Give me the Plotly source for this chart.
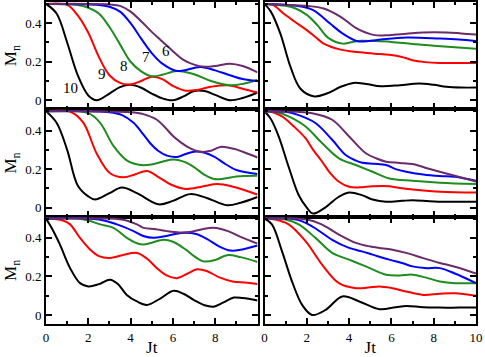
import plotly.graph_objects as go
from plotly.subplots import make_subplots

# curve colours, one per chain length n = 10, 9, 8, 7, 6
colors = ["black", "#ff0000", "#1e8c1e", "#0000ff", "#6b2a6b"]
curve_names = ["10", "9", "8", "7", "6"]

# ---- row 1, left ----
tl_x10 = [0, 0.5, 1.0, 1.5, 2.0, 2.4, 3.0, 3.5, 4.0, 4.5, 5.0, 5.5, 6.0, 6.5, 7.0, 7.5, 8.0, 8.7, 9.3, 10]
tl_y10 = [0.5, 0.45, 0.30, 0.13, 0.025, 0.0, 0.035, 0.068, 0.08, 0.065, 0.035, 0.01, 0.0, 0.02, 0.048, 0.048, 0.028, 0.0, 0.012, 0.04]
tl_x9 = [0, 1.0, 1.5, 2.0, 2.5, 3.0, 3.5, 4.0, 4.5, 5.0, 5.5, 6.0, 6.6, 7.2, 7.8, 8.6, 9.3, 10]
tl_y9 = [0.5, 0.495, 0.44, 0.35, 0.225, 0.13, 0.09, 0.082, 0.1, 0.122, 0.11, 0.075, 0.05, 0.055, 0.07, 0.078, 0.06, 0.04]
tl_x8 = [0, 1.5, 2.0, 2.5, 3.0, 3.5, 4.0, 4.5, 5.0, 5.5, 6.2, 7.0, 7.8, 8.7, 9.3, 10]
tl_y8 = [0.5, 0.495, 0.48, 0.45, 0.38, 0.29, 0.2, 0.15, 0.125, 0.132, 0.152, 0.135, 0.1, 0.078, 0.085, 0.105]
tl_x7 = [0, 2.5, 3.0, 3.5, 4.0, 4.5, 5.0, 5.5, 6.2, 7.3, 8.0, 8.7, 9.3, 10]
tl_y7 = [0.5, 0.495, 0.485, 0.46, 0.4, 0.32, 0.245, 0.19, 0.152, 0.173, 0.155, 0.13, 0.11, 0.1]
tl_x6 = [0, 3.0, 3.5, 4.0, 4.5, 5.0, 5.5, 6.0, 6.5, 7.0, 7.5, 8.0, 8.7, 9.3, 10]
tl_y6 = [0.5, 0.497, 0.49, 0.46, 0.41, 0.355, 0.305, 0.255, 0.21, 0.185, 0.174, 0.178, 0.19, 0.178, 0.145]

# ---- row 1, right ----
tr_x10 = [0, 0.3, 0.75, 1.23, 1.7, 2.36, 2.95, 3.6, 4.2, 4.8, 5.5, 6.4, 7.3, 8.0, 8.6, 9.3, 10]
tr_y10 = [0.5, 0.46, 0.346, 0.173, 0.06, 0.02, 0.035, 0.07, 0.09, 0.085, 0.073, 0.078, 0.087, 0.08, 0.07, 0.066, 0.066]
tr_x9 = [0, 0.4, 0.9, 1.4, 2.0, 2.5, 2.8, 3.6, 4.4, 5.2, 5.9, 6.5, 7.0, 7.6, 8.3, 9.0, 10]
tr_y9 = [0.5, 0.495, 0.45, 0.41, 0.364, 0.32, 0.294, 0.263, 0.25, 0.242, 0.236, 0.225, 0.208, 0.198, 0.194, 0.194, 0.194]
tr_x8 = [0, 1.0, 1.5, 2.0, 2.5, 3.0, 3.7, 4.4, 5.2, 6.0, 7.0, 8.0, 9.0, 10]
tr_y8 = [0.5, 0.49, 0.475, 0.443, 0.39, 0.325, 0.294, 0.308, 0.307, 0.303, 0.292, 0.283, 0.275, 0.268]
tr_x7 = [0, 1.5, 2.3, 3.1, 3.7, 4.4, 5.0, 5.5, 6.7, 8.3, 9.2, 10]
tr_y7 = [0.5, 0.49, 0.468, 0.398, 0.346, 0.306, 0.309, 0.315, 0.326, 0.32, 0.315, 0.308]
tr_x6 = [0, 2.0, 2.8, 3.6, 4.4, 5.2, 5.9, 6.7, 7.5, 8.6, 9.3, 10]
tr_y6 = [0.5, 0.49, 0.476, 0.433, 0.37, 0.338, 0.338, 0.345, 0.352, 0.352, 0.347, 0.341]

# ---- row 2, left ----
ml_x10 = [0, 0.5, 1.0, 1.5, 2.0, 2.32, 3.0, 3.59, 4.3, 5.32, 6.0, 6.82, 7.6, 8.56, 9.2, 10]
ml_y10 = [0.5, 0.44, 0.3, 0.115, 0.058, 0.042, 0.075, 0.104, 0.075, 0.017, 0.035, 0.07, 0.05, 0.012, 0.025, 0.055]
ml_x9 = [0, 1.2, 1.77, 2.4, 3.03, 3.67, 4.2, 4.77, 5.3, 5.9, 6.6, 7.4, 8.1, 8.8, 9.4, 10]
ml_y9 = [0.5, 0.495, 0.44, 0.28, 0.178, 0.157, 0.172, 0.19, 0.16, 0.12, 0.097, 0.11, 0.122, 0.11, 0.09, 0.068]
ml_x8 = [0, 2.0, 2.56, 3.19, 3.82, 4.4, 4.9, 5.5, 6.03, 6.6, 7.0, 7.5, 7.95, 8.5, 9.0, 10]
ml_y8 = [0.5, 0.49, 0.44, 0.32, 0.245, 0.222, 0.222, 0.238, 0.25, 0.235, 0.21, 0.17, 0.148, 0.152, 0.162, 0.165]
ml_x7 = [0, 3.0, 3.6, 4.14, 4.6, 4.93, 5.3, 5.72, 6.19, 6.6, 7.0, 7.5, 7.95, 8.5, 9.0, 10]
ml_y7 = [0.5, 0.495, 0.48, 0.44, 0.38, 0.334, 0.295, 0.27, 0.263, 0.278, 0.29, 0.285, 0.265, 0.225, 0.195, 0.175]
ml_x6 = [0, 4.0, 4.6, 5.24, 5.6, 6.03, 6.67, 7.3, 7.8, 8.25, 8.88, 9.3, 10]
ml_y6 = [0.5, 0.495, 0.485, 0.456, 0.42, 0.369, 0.317, 0.29, 0.295, 0.315, 0.305, 0.29, 0.26]

# ---- row 2, right ----
mr_x10 = [0, 0.3, 0.67, 1.14, 1.62, 2.0, 2.29, 2.9, 3.5, 4.0, 4.6, 5.11, 5.75, 6.5, 7.0, 7.8, 8.6, 9.3, 10]
mr_y10 = [0.5, 0.46, 0.37, 0.212, 0.064, 0.0, -0.031, 0.003, 0.055, 0.078, 0.065, 0.042, 0.03, 0.035, 0.038, 0.033, 0.03, 0.03, 0.03]
mr_x9 = [0, 0.4, 0.83, 1.4, 1.94, 2.3, 2.73, 3.1, 3.52, 4.0, 4.5, 5.11, 5.9, 6.5, 7.0, 8.3, 10]
mr_y9 = [0.5, 0.495, 0.473, 0.42, 0.36, 0.3, 0.238, 0.18, 0.134, 0.108, 0.105, 0.111, 0.111, 0.1, 0.094, 0.082, 0.078]
mr_x8 = [0, 0.6, 1.14, 1.94, 2.73, 3.52, 4.32, 5.11, 5.9, 7.0, 8.29, 10]
mr_y8 = [0.5, 0.495, 0.473, 0.421, 0.334, 0.256, 0.221, 0.186, 0.151, 0.139, 0.129, 0.122]
mr_x7 = [0, 1.0, 1.62, 2.41, 3.2, 3.84, 4.3, 4.63, 5.2, 5.75, 6.2, 6.7, 7.5, 8.29, 9.0, 10]
mr_y7 = [0.5, 0.497, 0.48, 0.439, 0.352, 0.273, 0.245, 0.233, 0.228, 0.221, 0.2, 0.186, 0.172, 0.164, 0.16, 0.139]
mr_x6 = [0, 1.5, 2.25, 3.2, 4.0, 4.79, 5.3, 5.75, 6.4, 7.0, 7.6, 8.29, 9.0, 10]
mr_y6 = [0.5, 0.497, 0.49, 0.456, 0.369, 0.282, 0.255, 0.238, 0.232, 0.226, 0.207, 0.186, 0.165, 0.135]

# ---- row 3, left ----
bl_x10 = [0, 0.3, 0.66, 1.14, 1.61, 2.0, 2.5, 3.03, 3.4, 3.82, 4.3, 4.77, 5.4, 6.03, 6.5, 6.98, 7.5, 7.93, 8.4, 8.88, 9.3, 10]
bl_y10 = [0.5, 0.445, 0.365, 0.243, 0.165, 0.148, 0.16, 0.183, 0.16, 0.104, 0.07, 0.052, 0.085, 0.125, 0.11, 0.078, 0.05, 0.043, 0.065, 0.09, 0.088, 0.075]
bl_x9 = [0, 0.8, 1.14, 1.61, 2.08, 2.5, 3.03, 3.6, 4.3, 4.8, 5.24, 5.7, 6.19, 6.7, 7.14, 7.6, 8.2, 8.88, 9.4, 10]
bl_y9 = [0.5, 0.49, 0.47, 0.4, 0.34, 0.305, 0.296, 0.31, 0.322, 0.29, 0.243, 0.205, 0.191, 0.215, 0.237, 0.228, 0.195, 0.172, 0.168, 0.16]
bl_x8 = [0, 1.5, 2.0, 2.56, 3.19, 3.82, 4.3, 4.61, 5.0, 5.56, 6.0, 6.6, 7.0, 7.45, 8.0, 8.56, 9.2, 10]
bl_y8 = [0.5, 0.5, 0.49, 0.47, 0.452, 0.4, 0.372, 0.365, 0.375, 0.39, 0.38, 0.34, 0.305, 0.278, 0.285, 0.31, 0.3, 0.275]
bl_x7 = [0, 2.5, 3.35, 4.14, 4.6, 5.09, 5.6, 6.1, 6.6, 7.1, 7.6, 8.2, 8.72, 9.2, 10]
bl_y7 = [0.5, 0.495, 0.47, 0.435, 0.41, 0.4, 0.408, 0.42, 0.426, 0.42, 0.395, 0.355, 0.334, 0.338, 0.36]
bl_x6 = [0, 3.0, 3.8, 4.3, 4.61, 5.2, 5.72, 6.3, 6.8, 7.4, 7.93, 8.6, 9.2, 10]
bl_y6 = [0.5, 0.5, 0.49, 0.47, 0.452, 0.445, 0.435, 0.428, 0.43, 0.445, 0.452, 0.435, 0.405, 0.37]

# ---- row 3, right ----
br_x10 = [0, 0.35, 0.83, 1.3, 1.78, 2.25, 2.89, 3.68, 4.48, 5.43, 6.2, 6.7, 7.5, 8.29, 9.2, 10]
br_y10 = [0.5, 0.47, 0.33, 0.174, 0.052, 0.0, 0.026, 0.096, 0.07, 0.03, 0.04, 0.047, 0.04, 0.038, 0.038, 0.038]
br_x9 = [0, 0.5, 1.14, 1.94, 2.73, 3.52, 4.32, 4.9, 5.43, 6.0, 6.7, 7.5, 8.29, 9.0, 10]
br_y9 = [0.5, 0.495, 0.47, 0.383, 0.26, 0.165, 0.139, 0.142, 0.148, 0.14, 0.122, 0.104, 0.11, 0.112, 0.1]
br_x8 = [0, 1.0, 1.62, 2.41, 3.2, 4.0, 4.79, 5.75, 6.4, 7.0, 7.6, 8.29, 9.0, 10]
br_y8 = [0.5, 0.495, 0.47, 0.4, 0.322, 0.287, 0.252, 0.209, 0.205, 0.209, 0.195, 0.174, 0.165, 0.165]
br_x7 = [0, 1.5, 2.25, 3.2, 4.0, 4.6, 5.11, 5.9, 6.5, 7.0, 7.6, 8.29, 9.0, 10]
br_y7 = [0.5, 0.495, 0.46, 0.39, 0.348, 0.33, 0.313, 0.287, 0.27, 0.252, 0.243, 0.243, 0.215, 0.165]
br_x6 = [0, 2.0, 2.7, 3.52, 4.32, 5.0, 5.43, 6.0, 6.7, 7.5, 8.29, 9.0, 10]
br_y6 = [0.5, 0.495, 0.47, 0.417, 0.374, 0.355, 0.348, 0.34, 0.322, 0.295, 0.27, 0.25, 0.215]

# where the chain-length labels sit in the first panel
label_x = [1.14, 2.63, 3.70, 4.72, 5.68]
label_y = [0.062, 0.135, 0.18, 0.227, 0.258]

panels = {
    (1, 1): [(tl_x10, tl_y10), (tl_x9, tl_y9), (tl_x8, tl_y8), (tl_x7, tl_y7), (tl_x6, tl_y6)],
    (1, 2): [(tr_x10, tr_y10), (tr_x9, tr_y9), (tr_x8, tr_y8), (tr_x7, tr_y7), (tr_x6, tr_y6)],
    (2, 1): [(ml_x10, ml_y10), (ml_x9, ml_y9), (ml_x8, ml_y8), (ml_x7, ml_y7), (ml_x6, ml_y6)],
    (2, 2): [(mr_x10, mr_y10), (mr_x9, mr_y9), (mr_x8, mr_y8), (mr_x7, mr_y7), (mr_x6, mr_y6)],
    (3, 1): [(bl_x10, bl_y10), (bl_x9, bl_y9), (bl_x8, bl_y8), (bl_x7, bl_y7), (bl_x6, bl_y6)],
    (3, 2): [(br_x10, br_y10), (br_x9, br_y9), (br_x8, br_y8), (br_x7, br_y7), (br_x6, br_y6)],
}

serif = "Liberation Serif"

fig = make_subplots(rows=3, cols=2, horizontal_spacing=7 / 430, vertical_spacing=0)

# draw the five curves in every panel
for (r, c), curves in panels.items():
    for (xs, ys), col, name in zip(curves, colors, curve_names):
        fig.add_trace(go.Scatter(x=xs, y=ys, mode="lines", name=name,
                                 line=dict(color=col, width=2, shape="spline", smoothing=1.0),
                                 showlegend=False, hoverinfo="skip"),
                      row=r, col=c)

axis_style = dict(showline=True, linecolor="black", linewidth=2, mirror="ticks",
                  ticks="inside", ticklen=6, tickwidth=1.5, tickcolor="black",
                  showgrid=False, zeroline=False, automargin=False,
                  tickfont=dict(family=serif, size=13, color="black"))

for r in range(1, 4):
    for c in range(1, 3):
        # left column stops at 8 so its "10" does not run into the right column's "0"
        xticks = [0, 2, 4, 6, 8] if c == 1 else [0, 2, 4, 6, 8, 10]
        fig.update_xaxes(range=[0, 10], tickmode="array", tickvals=xticks,
                         ticktext=[str(v) for v in xticks],
                         minor=dict(tickmode="linear", tick0=0, dtick=1, ticklen=3, ticks="inside",
                                    tickcolor="black", tickwidth=1.5),
                         showticklabels=(r == 3), row=r, col=c, **axis_style)
        fig.update_yaxes(range=[-0.047, 0.51], tickmode="array", tickvals=[0, 0.2, 0.4],
                         ticktext=["0", "0.2", "0.4"],
                         minor=dict(tickmode="linear", tick0=0, dtick=0.1, ticklen=3, ticks="inside",
                                    tickcolor="black", tickwidth=1.5),
                         showticklabels=(c == 1), row=r, col=c, **axis_style)
    fig.update_yaxes(title=dict(text="M<sub>n</sub>", font=dict(family=serif, size=17, color="black"),
                                standoff=4), row=r, col=1)

for c in range(1, 3):
    fig.update_xaxes(title=dict(text="Jt", font=dict(family=serif, size=17, color="black"), standoff=0),
                     row=3, col=c)

# chain-length labels in the top-left panel
for txt, lx, ly in zip(curve_names, label_x, label_y):
    fig.add_annotation(x=lx, y=ly, xref="x", yref="y", text=txt, showarrow=False,
                       font=dict(family=serif, size=15, color="black"))

fig.update_layout(width=485, height=357, margin=dict(l=46, r=9, t=2, b=33),
                  plot_bgcolor="white", paper_bgcolor="white")

# the page body has a default margin; drop it so the figure sits at the window corner
fig.write_html("out.html", config={"displayModeBar": False},
               post_script="document.body.style.margin='0px';")
